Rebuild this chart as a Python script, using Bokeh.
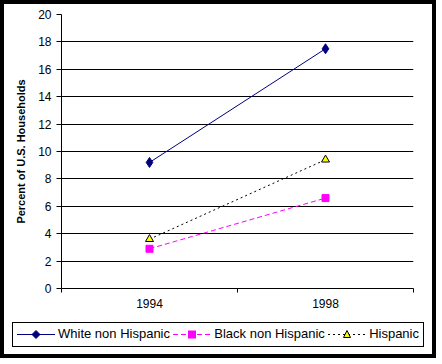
from bokeh.plotting import figure
from bokeh.layouts import column
from bokeh.models import FixedTicker, Range1d, Div
from bokeh.embed import file_html
from bokeh.resources import INLINE

years = ["1994", "1998"]
white_non_hispanic = [9.2, 17.5]
black_non_hispanic = [2.9, 6.6]
hispanic = [3.6, 9.4]
y_ticks = list(range(0, 21, 2))

series_names = ["White non Hispanic", "Black non Hispanic", "Hispanic"]

FONT = "Liberation Sans"
x = [i + 0.5 for i in range(len(years))]

p = figure(width=418, height=312, output_backend="svg", toolbar_location=None,
           x_range=Range1d(0, len(years)), y_range=Range1d(0, 20),
           min_border_left=57, min_border_right=9, min_border_top=10,
           min_border_bottom=28)
p.outline_line_color = None
p.background_fill_color = "white"
p.border_fill_color = "white"

# grid
p.xgrid.visible = False
p.ygrid.ticker = FixedTicker(ticks=y_ticks[1:-1])
p.ygrid.grid_line_color = "black"
p.ygrid.grid_line_width = 1

# y axis
p.yaxis.ticker = FixedTicker(ticks=y_ticks)
p.yaxis.axis_line_color = "black"
p.yaxis.major_tick_line_color = "black"
p.yaxis.major_tick_out = 5
p.yaxis.major_tick_in = 0
p.yaxis.minor_tick_line_color = None
p.yaxis.major_label_text_font = FONT
p.yaxis.major_label_text_font_size = "12px"
p.yaxis.major_label_text_color = "black"
p.yaxis.major_label_standoff = 5
p.yaxis.axis_label = "Percent of U.S. Households"
p.yaxis.axis_label_text_font = FONT
p.yaxis.axis_label_text_font_size = "11px"
p.yaxis.axis_label_text_font_style = "bold"
p.yaxis.axis_label_text_color = "black"
p.yaxis.axis_label_standoff = 8

# x axis
p.xaxis.ticker = FixedTicker(ticks=x, minor_ticks=list(range(len(years) + 1)))
p.xaxis.major_label_overrides = {xi: yr for xi, yr in zip(x, years)}
p.xaxis.axis_line_color = "black"
p.xaxis.major_tick_line_color = None
p.xaxis.major_tick_out = 4
p.xaxis.major_tick_in = 0
p.xaxis.minor_tick_line_color = "black"
p.xaxis.minor_tick_out = 4
p.xaxis.minor_tick_in = 0
p.xaxis.major_label_text_font = FONT
p.xaxis.major_label_text_font_size = "12px"
p.xaxis.major_label_text_color = "black"
p.xaxis.major_label_standoff = 6

styles = [
    dict(line=dict(line_color="#000080", line_width=1),
         marker=dict(marker="diamond", size=10, fill_color="#000080", line_color="#000080")),
    dict(line=dict(line_color="#FF00FF", line_width=1, line_dash="5 3"),
         marker=dict(marker="square", size=7, fill_color="#FF00FF", line_color="#FF00FF")),
    dict(line=dict(line_color="black", line_width=1, line_dash="2 3"),
         marker=dict(marker="triangle", size=8, fill_color="#FFFF00", line_color="black")),
]
values = [white_non_hispanic, black_non_hispanic, hispanic]

for vals, st in zip(values, styles):
    p.line(x, vals, **st["line"])
    p.scatter(x, vals, **st["marker"])


# legend strip (HTML) below the chart
def symbol_svg(st):
    ln, mk = st["line"], st["marker"]
    dash = ln.get("line_dash", "")
    dash_attr = f' stroke-dasharray="{dash}"' if dash else ""
    parts = [f'<line x1="0" y1="6.5" x2="38" y2="6.5" stroke="{ln["line_color"]}" '
             f'stroke-width="1"{dash_attr}/>']
    fc, lc = mk["fill_color"], mk["line_color"]
    if mk["marker"] == "diamond":
        parts.append(f'<polygon points="19,2.5 23,6.5 19,10.5 15,6.5" fill="{fc}" stroke="{lc}"/>')
    elif mk["marker"] == "square":
        parts.append(f'<rect x="15.5" y="3" width="7" height="7" fill="{fc}" stroke="{lc}"/>')
    else:
        parts.append(f'<polygon points="19,2.5 22.5,9.5 15.5,9.5" fill="{fc}" stroke="{lc}"/>')
    return ('<svg width="38" height="13" style="display:block;flex:none">'
            + "".join(parts) + "</svg>")


entries = "".join(
    '<span style="display:flex;align-items:center">'
    + symbol_svg(st)
    + f'<span style="margin-left:3px">{name}</span></span>'
    for name, st in zip(series_names, styles)
)
legend_html = (
    '<div style="box-sizing:border-box;width:412px;height:25px;margin:1px 0 0 3px;'
    'border:1px solid black;background:white;display:flex;align-items:center;'
    'justify-content:space-between;padding:0 4px;'
    f"font-family:'{FONT}';font-size:13px;color:black;white-space:nowrap\">"
    + entries + "</div>"
)
legend_div = Div(text=legend_html, width=418, height=28)
legend_div.styles = {"background-color": "white"}

layout = column(p, legend_div, spacing=0)
layout.styles = {"border": "4px solid black", "background-color": "white"}

open("out.html", "w").write(file_html(layout, INLINE))
